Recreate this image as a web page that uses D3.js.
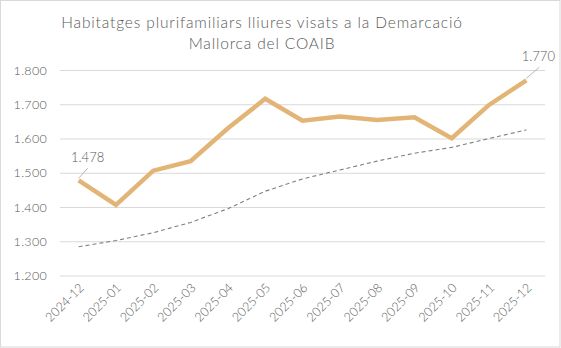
<!DOCTYPE html>
<html>
<head>
<meta charset="utf-8">
<script src="https://cdn.jsdelivr.net/npm/d3@7/dist/d3.min.js"></script>
<style>
  html, body { margin: 0; padding: 0; background: #fff; }
  svg { display: block; }
  text { font-family: "Lato", "Open Sans", sans-serif; fill: #595959; }
</style>
</head>
<body>
<svg id="chart" width="561" height="348"></svg>
<script>
// Monthly periods
const months = ["2024-12", "2025-01", "2025-02", "2025-03", "2025-04", "2025-05", "2025-06",
                "2025-07", "2025-08", "2025-09", "2025-10", "2025-11", "2025-12"];
// Dwellings approved (rolling count)
const visats = [1478, 1406, 1506, 1534, 1630, 1716, 1652, 1664, 1654, 1662, 1601, 1698, 1770];
// Trend line
const trend = [1284, 1302, 1325, 1355, 1395, 1446, 1482, 1508, 1534, 1557, 1574, 1600, 1625];
const yTicks = [1200, 1300, 1400, 1500, 1600, 1700, 1800];
const titleLines = ["Habitatges plurifamiliars lliures visats a la Demarcació", "Mallorca del COAIB"];

const W = 561, H = 348;
const svg = d3.select("#chart");

// outer frame
svg.append("rect").attr("x", 0.5).attr("y", 0.5).attr("width", W - 1.5).attr("height", H - 1.5)
  .attr("fill", "#fff").attr("stroke", "#d9d9d9");

const x = d3.scaleBand().domain(months).range([60, 545]);
const y = d3.scaleLinear().domain([1200, 1800]).range([275.5, 70]);
const cx = d => x(d) + x.bandwidth() / 2;

// title
svg.append("g").selectAll("text").data(titleLines).join("text")
  .attr("x", 262).attr("y", (d, i) => 28 + i * 20.5)
  .attr("text-anchor", "middle")
  .attr("font-size", 15.5).attr("font-weight", 300)
  .attr("letter-spacing", 0.85)
  .text(d => d);

// horizontal grid + y labels
const yAxis = d3.axisLeft(y).tickValues(yTicks).tickSize(-(545 - 60)).tickPadding(13)
  .tickFormat(d => d3.format(",")(d).replace(",", "."));
const gy = svg.append("g").attr("transform", "translate(60,0)").call(yAxis);
gy.select(".domain").remove();
gy.selectAll(".tick line").attr("stroke", "#d9d9d9").attr("stroke-width", 1);
gy.selectAll(".tick text").attr("font-size", 12.5).attr("fill", "#595959")
  .attr("font-weight", 300).attr("letter-spacing", 0.3)
  .style("font-family", "Lato, 'Open Sans', sans-serif");

// x labels
const xAxis = d3.axisBottom(x).tickSize(0).tickPadding(0);
const gx = svg.append("g").attr("transform", "translate(0,275.5)").call(xAxis);
gx.select(".domain").remove();
gx.selectAll(".tick text")
  .attr("font-size", 12.5).attr("fill", "#595959")
  .attr("font-weight", 300)
  .style("font-family", "Lato, 'Open Sans', sans-serif")
  .attr("text-anchor", "end")
  .attr("dy", 0)
  .attr("transform", "translate(6,13) rotate(-45)");

// trend (dashed)
const line = d3.line().x((d, i) => cx(months[i])).y(d => y(d));
svg.append("path").datum(trend).attr("d", line)
  .attr("fill", "none").attr("stroke", "#7f7f7f").attr("stroke-width", 1.1)
  .attr("stroke-dasharray", "4,3");

// main series
svg.append("path").datum(visats).attr("d", line)
  .attr("fill", "none").attr("stroke", "#e2b577").attr("stroke-width", 4.5)
  .attr("stroke-linejoin", "miter").attr("stroke-linecap", "butt");

// value labels for first and last points
const fmt = d => d3.format(",")(d).replace(",", ".");
const callouts = [
  { i: 0, dx: 9, dy: -12, tx: 9, ty: -18 },
  { i: months.length - 1, dx: 13, dy: -13, tx: 12, ty: -19 }
];
callouts.forEach(c => {
  const px = cx(months[c.i]), py = y(visats[c.i]);
  svg.append("line").attr("x1", px).attr("y1", py - 2).attr("x2", px + c.dx).attr("y2", py + c.dy)
    .attr("stroke", "#a6a6a6").attr("stroke-width", 0.8);
  svg.append("text").attr("x", px + c.tx).attr("y", py + c.ty)
    .attr("text-anchor", "middle").attr("font-size", 13).attr("fill", "#404040")
    .attr("font-weight", 300)
    .text(fmt(visats[c.i]));
});
</script>
</body>
</html>
